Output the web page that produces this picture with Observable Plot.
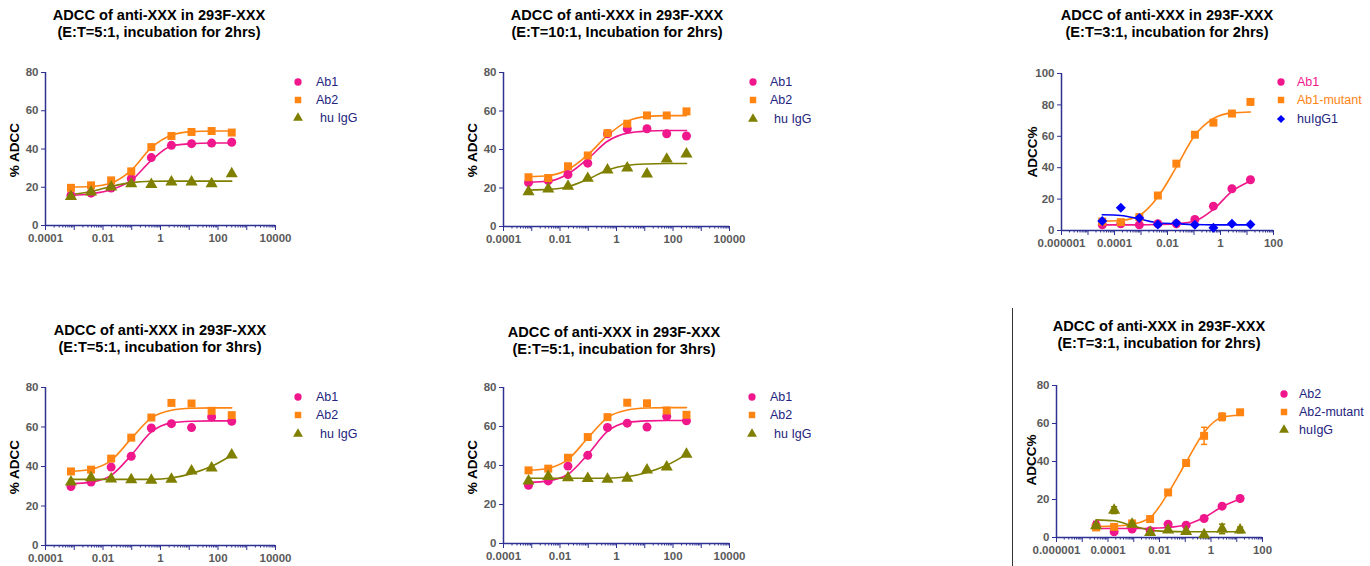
<!DOCTYPE html>
<html><head><meta charset="utf-8">
<script src="https://cdn.jsdelivr.net/npm/d3@7"></script>
<script src="https://cdn.jsdelivr.net/npm/@observablehq/plot@0.6"></script>
<style>
body{margin:0;background:#fff;width:1370px;height:566px;position:relative;overflow:hidden;font-family:"Liberation Sans",Arial,sans-serif;}
.title{position:absolute;font-weight:bold;font-size:14.6px;text-align:center;line-height:17px;color:#000;white-space:nowrap;transform:translateX(-50%);}
.ylab{position:absolute;font-weight:bold;font-size:13.5px;color:#000;white-space:nowrap;transform:translate(-50%,-50%) rotate(-90deg);}
.plotbox{position:absolute;}
.plotbox svg text{font-weight:bold;}
.leg{position:absolute;font-size:12.5px;white-space:nowrap;line-height:14px;}
.leg svg{position:absolute;}
.vline{position:absolute;background:#333;}
</style></head><body>
<script>
// ---------- data ----------
const concA = [0.000768, 0.00384, 0.0192, 0.096, 0.48, 2.4, 12, 60, 300];
const concB = [0.00003456, 0.0001728, 0.000864, 0.00432, 0.0216, 0.108, 0.54, 2.7, 13.5];

const xTicksA = [0.0001, 0.01, 1, 100, 10000];
const xLabelsA = ["0.0001", "0.01", "1", "100", "10000"];
const xTicksB = [0.000001, 0.0001, 0.01, 1, 100];
const xLabelsB = ["0.000001", "0.0001", "0.01", "1", "100"];
const yTicks80 = [0, 20, 40, 60, 80];
const yTicks100 = [0, 20, 40, 60, 80, 100];

// Panel 1: E:T=5:1, 2hrs
const p1Ab1 = [15.7, 16.9, 19.6, 24.5, 35.5, 41.9, 42.8, 43.1, 43.5];
const p1Ab2 = [19.7, 21.0, 23.6, 28.3, 41.0, 46.8, 48.9, 49.4, 48.6];
const p1IgG = [15.2, 17.5, 20.1, 21.8, 21.5, 22.7, 22.7, 21.8, 27.0];
const p1Ab1Fit = [15.7, 16.6, 18.7, 23.6, 34.0, 41.6, 42.8, 43.1, 43.1];
const p1Ab2Fit = [20.1, 20.4, 22.2, 28.8, 40.7, 47.2, 49.1, 49.4, 49.4];
const p1IgGFit = [16.2, 17.8, 20.4, 22.4, 23.1, 23.2, 23.2, 23.2, 23.2];

// Panel 2: E:T=10:1, 2hrs
const p2Ab1 = [22.8, 23.8, 27.0, 32.9, 48.2, 50.8, 50.8, 48.2, 47.0];
const p2Ab2 = [25.6, 25.2, 31.3, 36.9, 48.5, 53.4, 57.7, 57.7, 59.8];
const p2IgG = [18.1, 19.5, 20.9, 25.0, 29.4, 30.4, 27.3, 35.0, 37.7];
const p2Ab1Fit = [23.0, 23.5, 27.3, 35.1, 44.3, 48.5, 49.6, 49.9, 49.9];
const p2Ab2Fit = [25.9, 26.4, 29.6, 37.2, 47.3, 54.6, 57.2, 57.6, 57.6];
const p2IgGFit = [19.0, 19.3, 20.7, 24.5, 29.4, 31.8, 32.5, 32.7, 32.7];

// Panel 3: E:T=3:1, 2hrs
const p3Ab1 = [3.6, 4.3, 3.6, 4.3, 4.3, 7.0, 15.5, 26.6, 32.3];
const p3Mut = [5.7, 5.3, 8.5, 22.3, 42.6, 61.0, 68.7, 74.5, 81.9];
const p3IgG1 = [6.0, 14.5, 7.9, 3.8, 4.7, 3.6, 1.7, 4.3, 3.8];
const p3Ab1Fit = [3.6, 3.6, 3.6, 3.8, 4.3, 6.0, 13.4, 24.9, 31.5];
const p3MutFit = [6.0, 6.4, 9.6, 21.3, 40.4, 60.6, 71.3, 74.9, 75.5];
const p3IgG1Fit = [10.0, 9.6, 7.4, 4.9, 4.3, 3.8, 3.6, 3.6, 3.6];

// Panels 4 and 5: E:T=5:1, 3hrs
const p4Ab1 = [29.9, 32.1, 39.7, 45.2, 59.5, 61.7, 59.7, 65.1, 62.9];
const p4Ab2 = [37.5, 38.4, 44.0, 54.6, 64.8, 72.2, 71.9, 68.2, 66.0];
const p4IgG = [32.1, 34.3, 33.7, 33.3, 33.0, 33.5, 37.7, 39.2, 45.8];
const p4Ab1Fit = [31.3, 32.1, 35.5, 45.7, 57.5, 62.1, 62.9, 63.1, 63.1];
const p4Ab2Fit = [37.5, 38.6, 43.1, 54.1, 64.6, 68.5, 69.5, 69.7, 69.7];
const p4IgGFit = [33.5, 33.5, 33.5, 33.5, 33.5, 34.2, 36.4, 40.1, 45.7];

// Panel 6: E:T=3:1, 2hrs (mean with error)
const p6Ab2 = [6.5, 3.0, 4.5, 3.5, 7.0, 6.5, 10.0, 16.5, 20.5];
const p6Ab2Err = [2.0, 1.0, 0.5, 0.5, 0, 0, 0, 0, 0];
const p6Mut = [5.3, 5.6, 7.4, 9.7, 23.7, 39.2, 53.5, 63.5, 65.9];
const p6MutErr = [1.0, 1.0, 1.0, 0, 0, 0, 4.5, 2.0, 0.5];
const p6IgG = [6.2, 14.4, 7.0, 2.6, 3.9, 3.2, 1.4, 4.5, 4.0];
const p6IgGErr = [1.0, 1.8, 0.5, 0.5, 0, 0, 0, 2.5, 1.5];
const p6Ab2Fit = [4.7, 4.7, 4.7, 4.9, 5.3, 6.7, 10.5, 16.2, 20.2];
const p6MutFit = [5.8, 6.0, 7.0, 10.5, 23.4, 39.6, 55.4, 63.3, 64.5];
const p6IgGFit = [9.3, 8.8, 6.2, 3.9, 3.2, 3.0, 3.0, 3.0, 3.0];

// ---------- style ----------
const AXIS = "#2e3192", GRAY = "#5a5a5a", NAVY = "#24247e";
const PINK = "#f0168b", ORANGE = "#ff8412", OLIVE = "#7f7f00", BLUE = "#0000ff";

const capSymbol = {draw(ctx, size) { const w = Math.sqrt(size) / 2; ctx.moveTo(-w, 0); ctx.lineTo(w, 0); }};

function el(cls, css, html) {
  const d = document.createElement("div");
  d.className = cls;
  Object.assign(d.style, css);
  if (html !== undefined) d.textContent = html;
  document.body.appendChild(d);
  return d;
}

function rowsOf(conc, v, f, e) {
  return conc.map((c, i) => ({c, v: v[i], f: f[i], e: e ? e[i] : 0}));
}

function panel(cfg) {
  const {ax, xr, yTop, yBot, xTicks, xLabels, yTicks, series} = cfg;
  const mL = 40, mR = 26, mT = 8, mB = 26;
  const w = mL + (xr - ax) + mR, h = mT + (yBot - yTop) + mB;
  const xDomain = [xTicks[0], xTicks[xTicks.length - 1]];
  const e0 = Math.round(Math.log10(xDomain[0])), e1 = Math.round(Math.log10(xDomain[1]));
  const decades = d3.range(e0, e1 + 1).map(e => +("1e" + e));
  const minor = [];
  decades.slice(0, -1).forEach(d => { for (let k = 2; k <= 9; k++) minor.push(k * d); });
  const lab = d => { const i = xTicks.findIndex(t => Math.abs(t / d - 1) < 1e-9); return i < 0 ? "" : xLabels[i]; };
  const marks = [
    Plot.axisX(minor, {tickSize: 2.5, fill: "none", stroke: AXIS, label: null}),
    Plot.axisX(decades, {tickSize: 5, tickPadding: 3, tickFormat: lab, stroke: AXIS, fill: GRAY, fontWeight: "bold", fontSize: 11.5, label: null}),
    Plot.axisY(yTicks, {tickSize: 4, tickPadding: 3, stroke: AXIS, fill: GRAY, fontWeight: "bold", fontSize: 11.5, label: null}),
    Plot.ruleY([0], {stroke: AXIS, strokeWidth: 1.5}),
    Plot.ruleX([xDomain[0]], {stroke: AXIS, strokeWidth: 1.5})
  ];
  for (const s of series) {
    marks.push(Plot.line(s.rows, {x: "c", y: "f", stroke: s.color, strokeWidth: 1.6, curve: "monotone-x"}));
  }
  for (const s of series) {
    const er = s.rows.filter(d => d.e > 0);
    if (er.length) {
      marks.push(Plot.ruleX(er, {x: "c", y1: d => d.v - d.e, y2: d => d.v + d.e, stroke: s.color, strokeWidth: 1.5}));
      marks.push(Plot.dot(er, {x: "c", y: d => d.v - d.e, symbol: capSymbol, stroke: s.color, strokeWidth: 1.5, r: 3.5}));
      marks.push(Plot.dot(er, {x: "c", y: d => d.v + d.e, symbol: capSymbol, stroke: s.color, strokeWidth: 1.5, r: 3.5}));
    }
    marks.push(Plot.dot(s.rows, {x: "c", y: "v", symbol: s.symbol, fill: s.color, r: 4.5}));
  }
  const chart = Plot.plot({
    width: w, height: h,
    marginLeft: mL, marginRight: mR, marginTop: mT, marginBottom: mB,
    x: {type: "log", domain: xDomain, label: null},
    y: {domain: [yTicks[0], yTicks[yTicks.length - 1]], label: null},
    style: {overflow: "visible", background: "transparent", fontFamily: "Liberation Sans, Arial, sans-serif"},
    marks
  });
  const box = el("plotbox", {left: (ax - mL) + "px", top: (yTop - mT) + "px"});
  box.appendChild(chart);

  // title
  const t = el("title", {left: cfg.titleX + "px", top: (cfg.titleY - 8) + "px"});
  cfg.title.forEach(line => { const s = document.createElement("div"); s.textContent = line; t.appendChild(s); });

  // y label
  el("ylab", {left: cfg.ylabX + "px", top: cfg.ylabY + "px"}, cfg.ylabel);

  // legend
  cfg.legend.rows.forEach((r, i) => {
    const s = series[i];
    const y = cfg.legend.y[i];
    const sv = d3.create("svg").attr("width", 12).attr("height", 12)
      .style("left", (cfg.legend.sx - 6) + "px").style("top", (y - 6) + "px").style("position", "absolute");
    const symType = {circle: d3.symbolCircle, square: d3.symbolSquare, triangle: d3.symbolTriangle, diamond2: d3.symbolDiamond2}[s.symbol];
    sv.append("path").attr("transform", "translate(6,6)").attr("d", d3.symbol(symType, 42)()).attr("fill", s.color);
    document.body.appendChild(sv.node());
    el("leg", {left: (cfg.legend.tx + (r.indent || 0)) + "px", top: (y - 7) + "px", color: r.color || NAVY}, r.text);
  });
}

const legStd = [{text: "Ab1"}, {text: "Ab2"}, {text: "hu IgG", indent: 4}];

panel({
  ax: 45, xr: 275, yTop: 72, yBot: 225, xTicks: xTicksA, xLabels: xLabelsA, yTicks: yTicks80,
  title: ["ADCC of anti-XXX in 293F-XXX", "(E:T=5:1, incubation for 2hrs)"], titleX: 159, titleY: 15,
  ylabel: "% ADCC", ylabX: 14, ylabY: 150,
  series: [
    {rows: rowsOf(concA, p1Ab1, p1Ab1Fit), color: PINK, symbol: "circle"},
    {rows: rowsOf(concA, p1Ab2, p1Ab2Fit), color: ORANGE, symbol: "square"},
    {rows: rowsOf(concA, p1IgG, p1IgGFit), color: OLIVE, symbol: "triangle"}
  ],
  legend: {rows: legStd, sx: 298, tx: 316, y: [82, 100, 118]}
});

panel({
  ax: 503, xr: 729, yTop: 72, yBot: 226, xTicks: xTicksA, xLabels: xLabelsA, yTicks: yTicks80,
  title: ["ADCC of anti-XXX in 293F-XXX", "(E:T=10:1, Incubation for 2hrs)"], titleX: 617, titleY: 15,
  ylabel: "% ADCC", ylabX: 472, ylabY: 150,
  series: [
    {rows: rowsOf(concA, p2Ab1, p2Ab1Fit), color: PINK, symbol: "circle"},
    {rows: rowsOf(concA, p2Ab2, p2Ab2Fit), color: ORANGE, symbol: "square"},
    {rows: rowsOf(concA, p2IgG, p2IgGFit), color: OLIVE, symbol: "triangle"}
  ],
  legend: {rows: legStd, sx: 753, tx: 770, y: [82, 100, 119]}
});

panel({
  ax: 1061, xr: 1273, yTop: 73, yBot: 230, xTicks: xTicksB, xLabels: xLabelsB, yTicks: yTicks100,
  title: ["ADCC of anti-XXX in 293F-XXX", "(E:T=3:1, incubation for 2hrs)"], titleX: 1167, titleY: 15,
  ylabel: "ADCC%", ylabX: 1032, ylabY: 152,
  series: [
    {rows: rowsOf(concB, p3Ab1, p3Ab1Fit), color: PINK, symbol: "circle"},
    {rows: rowsOf(concB, p3Mut, p3MutFit), color: ORANGE, symbol: "square"},
    {rows: rowsOf(concB, p3IgG1, p3IgG1Fit), color: BLUE, symbol: "diamond2"}
  ],
  legend: {rows: [{text: "Ab1", color: PINK}, {text: "Ab1-mutant", color: ORANGE}, {text: "huIgG1", color: NAVY}], sx: 1281, tx: 1297, y: [82, 100, 119]}
});

panel({
  ax: 45, xr: 275, yTop: 387, yBot: 545, xTicks: xTicksA, xLabels: xLabelsA, yTicks: yTicks80,
  title: ["ADCC of anti-XXX in 293F-XXX", "(E:T=5:1, incubation for 3hrs)"], titleX: 160, titleY: 330,
  ylabel: "% ADCC", ylabX: 14, ylabY: 467,
  series: [
    {rows: rowsOf(concA, p4Ab1, p4Ab1Fit), color: PINK, symbol: "circle"},
    {rows: rowsOf(concA, p4Ab2, p4Ab2Fit), color: ORANGE, symbol: "square"},
    {rows: rowsOf(concA, p4IgG, p4IgGFit), color: OLIVE, symbol: "triangle"}
  ],
  legend: {rows: legStd, sx: 298, tx: 316, y: [397, 415, 434]}
});

panel({
  ax: 503, xr: 729, yTop: 387, yBot: 543, xTicks: xTicksA, xLabels: xLabelsA, yTicks: yTicks80,
  title: ["ADCC of anti-XXX in 293F-XXX", "(E:T=5:1, incubation for 3hrs)"], titleX: 614, titleY: 332,
  ylabel: "% ADCC", ylabX: 472, ylabY: 467,
  series: [
    {rows: rowsOf(concA, p4Ab1, p4Ab1Fit), color: PINK, symbol: "circle"},
    {rows: rowsOf(concA, p4Ab2, p4Ab2Fit), color: ORANGE, symbol: "square"},
    {rows: rowsOf(concA, p4IgG, p4IgGFit), color: OLIVE, symbol: "triangle"}
  ],
  legend: {rows: legStd, sx: 752, tx: 770, y: [397, 415, 434]}
});

el("vline", {left: "1012px", top: "308px", width: "1px", height: "260px"});

panel({
  ax: 1056, xr: 1262, yTop: 385, yBot: 537, xTicks: xTicksB, xLabels: xLabelsB, yTicks: yTicks80,
  title: ["ADCC of anti-XXX in 293F-XXX", "(E:T=3:1, incubation for 2hrs)"], titleX: 1159, titleY: 326,
  ylabel: "ADCC%", ylabX: 1031, ylabY: 460,
  series: [
    {rows: rowsOf(concB, p6Ab2, p6Ab2Fit, p6Ab2Err), color: PINK, symbol: "circle"},
    {rows: rowsOf(concB, p6Mut, p6MutFit, p6MutErr), color: ORANGE, symbol: "square"},
    {rows: rowsOf(concB, p6IgG, p6IgGFit, p6IgGErr), color: OLIVE, symbol: "triangle"}
  ],
  legend: {rows: [{text: "Ab2"}, {text: "Ab2-mutant"}, {text: "huIgG"}], sx: 1284, tx: 1299, y: [394, 412, 430]}
});
</script>
</body></html>
